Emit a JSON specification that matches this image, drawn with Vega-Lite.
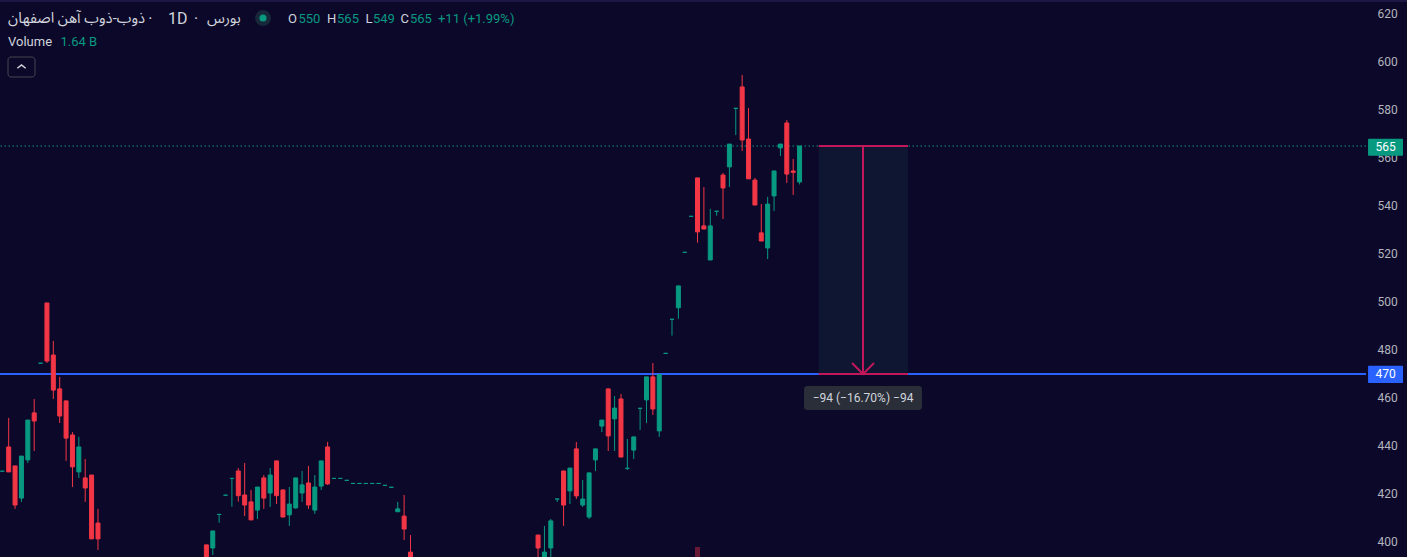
{
  "$schema": "https://vega.github.io/schema/vega-lite/v6.json",
  "width": 1366,
  "height": 557,
  "autosize": {"type": "none"},
  "padding": {"left": 0, "top": 0, "right": 41, "bottom": 0},
  "background": "#0c0829",
  "config": {"view": {"stroke": null}, "font": "Roboto"},
  "datasets": {
    "candles": [
      {"i":0,"o":429.5,"h":429.5,"l":429.5,"c":429.5},
      {"i":1,"o":439.6,"h":451.7,"l":429.2,"c":429.2},
      {"i":2,"o":431.7,"h":431.7,"l":413.8,"c":415.4},
      {"i":3,"o":418.3,"h":435.8,"l":416.7,"c":435.8},
      {"i":4,"o":434.2,"h":450.8,"l":432.9,"c":450.8},
      {"i":5,"o":453.8,"h":459.6,"l":437.9,"c":450.4},
      {"i":6,"o":474.5,"h":474.5,"l":474.5,"c":474.5},
      {"i":7,"o":499.6,"h":499.6,"l":474.6,"c":475.4},
      {"i":8,"o":477.9,"h":483.8,"l":459.6,"c":463.3},
      {"i":9,"o":463.8,"h":468.8,"l":449.6,"c":452.5},
      {"i":10,"o":458.8,"h":458.8,"l":433.8,"c":443.3},
      {"i":11,"o":444.6,"h":445.8,"l":422.9,"c":431.3},
      {"i":12,"o":429.2,"h":443.8,"l":426.7,"c":439.6},
      {"i":13,"o":426.7,"h":434.6,"l":416.7,"c":422.5},
      {"i":14,"o":427.9,"h":427.9,"l":401.3,"c":401.3},
      {"i":15,"o":407.9,"h":413.8,"l":396.7,"c":401.3},
      {"i":32,"o":398.8,"h":398.8,"l":386,"c":388},
      {"i":33,"o":397.5,"h":404.6,"l":394.6,"c":404.6},
      {"i":34,"o":411.5,"h":411.5,"l":408,"c":411.5},
      {"i":35,"o":419.5,"h":419.5,"l":419.5,"c":419.5},
      {"i":36,"o":426.5,"h":426.5,"l":414.7,"c":426.5},
      {"i":37,"o":429.6,"h":430.8,"l":416.8,"c":419.3},
      {"i":38,"o":419.6,"h":432.9,"l":410.8,"c":415.4},
      {"i":39,"o":416.7,"h":421.7,"l":409.2,"c":409.2},
      {"i":40,"o":413.3,"h":422.9,"l":409.6,"c":422.9},
      {"i":41,"o":426.7,"h":427.9,"l":413.8,"c":418.3},
      {"i":42,"o":420.4,"h":430.8,"l":414.6,"c":427.9},
      {"i":43,"o":433.8,"h":433.8,"l":415.8,"c":419.3},
      {"i":44,"o":421.7,"h":421.7,"l":410.4,"c":410.4},
      {"i":45,"o":411.3,"h":422.9,"l":406.7,"c":415.8},
      {"i":46,"o":414.2,"h":426.7,"l":413.8,"c":426.7},
      {"i":47,"o":420.4,"h":429.6,"l":416.7,"c":423.8},
      {"i":48,"o":424.6,"h":431.7,"l":413.8,"c":415.4},
      {"i":49,"o":413.3,"h":427.9,"l":411.7,"c":422.9},
      {"i":50,"o":423.3,"h":433.8,"l":421.7,"c":433.8},
      {"i":51,"o":439.6,"h":441.7,"l":423.8,"c":424.2},
      {"i":52,"o":426.5,"h":426.5,"l":426.5,"c":426.5},
      {"i":53,"o":426.5,"h":426.5,"l":426.5,"c":426.5},
      {"i":54,"o":425.7,"h":425.7,"l":425.7,"c":425.7},
      {"i":55,"o":424.4,"h":424.4,"l":424.4,"c":424.4},
      {"i":56,"o":424.4,"h":424.4,"l":424.4,"c":424.4},
      {"i":57,"o":424.4,"h":424.4,"l":424.4,"c":424.4},
      {"i":58,"o":424.4,"h":424.4,"l":424.4,"c":424.4},
      {"i":59,"o":424.4,"h":424.4,"l":424.4,"c":424.4},
      {"i":60,"o":423.6,"h":423.6,"l":423.6,"c":423.6},
      {"i":61,"o":422.8,"h":422.8,"l":422.8,"c":422.8},
      {"i":62,"o":412.6,"h":416.7,"l":412.6,"c":413.8},
      {"i":63,"o":410.8,"h":419.6,"l":400.8,"c":405.4},
      {"i":64,"o":395.8,"h":402.9,"l":386,"c":388},
      {"i":84,"o":402.9,"h":402.9,"l":386,"c":397.5},
      {"i":85,"o":388,"h":406.7,"l":386,"c":395.8},
      {"i":86,"o":397.5,"h":409.6,"l":386,"c":408.8},
      {"i":87,"o":417.9,"h":417.9,"l":416.7,"c":417.9},
      {"i":88,"o":429.6,"h":429.6,"l":406.7,"c":415.4},
      {"i":89,"o":421.3,"h":430.8,"l":415.8,"c":430.8},
      {"i":90,"o":438.8,"h":441.7,"l":417.9,"c":419.2},
      {"i":91,"o":415.4,"h":425.8,"l":414.6,"c":417.9},
      {"i":92,"o":410.4,"h":428.8,"l":409.6,"c":428.8},
      {"i":93,"o":434.2,"h":438.8,"l":429.6,"c":438.8},
      {"i":94,"o":448.3,"h":450.8,"l":445.8,"c":450.8},
      {"i":95,"o":463.8,"h":463.8,"l":437.9,"c":444.2},
      {"i":96,"o":451.3,"h":460.8,"l":437.9,"c":455.8},
      {"i":97,"o":459.6,"h":461.7,"l":435.4,"c":435.4},
      {"i":98,"o":430.7,"h":442.9,"l":430,"c":430.7},
      {"i":99,"o":438.3,"h":443.8,"l":434.6,"c":443.8},
      {"i":100,"o":455.7,"h":455.7,"l":446.7,"c":455.7},
      {"i":101,"o":459.2,"h":468.8,"l":449.6,"c":468.8},
      {"i":102,"o":468.8,"h":474.6,"l":452.9,"c":455.4},
      {"i":103,"o":446.3,"h":469.8,"l":443.8,"c":469.8},
      {"i":104,"o":478.6,"h":478.6,"l":478.6,"c":478.6},
      {"i":105,"o":492.8,"h":492.8,"l":486,"c":492.8},
      {"i":106,"o":497.6,"h":506.7,"l":493,"c":506.7},
      {"i":107,"o":520.7,"h":520.7,"l":520.7,"c":520.7},
      {"i":108,"o":535.7,"h":535.7,"l":535.7,"c":535.7},
      {"i":109,"o":551.7,"h":551.7,"l":524.7,"c":529.2},
      {"i":110,"o":531.7,"h":547.9,"l":530.4,"c":530.4},
      {"i":111,"o":517.5,"h":538.8,"l":517.5,"c":531.7},
      {"i":112,"o":537.8,"h":537.8,"l":536,"c":537.8},
      {"i":113,"o":552.9,"h":553.8,"l":534.6,"c":547.5},
      {"i":114,"o":556.3,"h":565.8,"l":547.9,"c":565.8},
      {"i":115,"o":580.7,"h":580.7,"l":569.6,"c":580.7},
      {"i":116,"o":589.6,"h":594.6,"l":562.9,"c":567.5},
      {"i":117,"o":567.9,"h":580.8,"l":551.3,"c":551.3},
      {"i":118,"o":550.8,"h":551.7,"l":540.4,"c":540.4},
      {"i":119,"o":528.8,"h":540.8,"l":525.4,"c":525.4},
      {"i":120,"o":522.5,"h":543.8,"l":517.9,"c":540.8},
      {"i":121,"o":544.2,"h":554.6,"l":537.9,"c":554.6},
      {"i":122,"o":564.2,"h":565.8,"l":560.8,"c":565.8},
      {"i":123,"o":574.6,"h":575.8,"l":549.6,"c":553.3},
      {"i":124,"o":554.6,"h":559.6,"l":544.6,"c":554},
      {"i":125,"o":550,"h":565,"l":549,"c":565}
    ],
    "volume": [{"i":109,"vol":9}]
  },
  "layer": [
    {
      "data": {"name": "volume"},
      "mark": {"type": "bar", "width": 5, "color": "#f23645", "opacity": 0.4},
      "encoding": {
        "x": {"field": "i", "type": "quantitative", "scale": {"domain": [-0.3606, 213.81], "nice": false, "zero": false, "padding": 0}, "axis": null},
        "y": {"field": "vol", "type": "quantitative", "scale": {"domain": [0, 500], "nice": false, "padding": 0}, "axis": null}
      }
    },
    {
      "layer": [
        {
          "data": {"values": [{}]},
          "mark": {"type": "rule", "color": "#1c1744", "strokeWidth": 2},
          "encoding": {
            "x": {"datum": -0.3606}, "x2": {"datum": 220.3},
            "y": {"datum": 625.4, "type": "quantitative", "scale": {"domain": [393.75, 625.83], "nice": false, "zero": false, "padding": 0},
              "axis": {"orient": "right", "values": [400,420,440,460,480,500,520,540,560,580,600,620], "grid": false, "domain": false, "ticks": false, "tickSize": 0, "labelPadding": 21, "labelAlign": "center", "labelFontSize": 12, "labelColor": "#b2b5be", "labelFont": "Roboto", "title": null}}
          }
        },
        {
          "data": {"values": [{}]},
          "mark": {"type": "rect", "color": "#0e1631"},
          "encoding": {"x": {"datum": 128}, "x2": {"datum": 142}, "y": {"datum": 470}, "y2": {"datum": 565}}
        },
        {
          "data": {"values": [{}]},
          "mark": {"type": "rule", "color": "#2962ff", "strokeWidth": 2},
          "encoding": {"y": {"datum": 470}}
        },
        {
          "data": {"values": [{}]},
          "mark": {"type": "rule", "color": "#089981", "strokeWidth": 1, "strokeDash": [1.5, 2.5]},
          "encoding": {"y": {"datum": 565}}
        },
        {
          "data": {"name": "candles"},
          "mark": {"type": "rule", "strokeWidth": 1, "clip": true},
          "encoding": {
            "x": {"field": "i", "type": "quantitative"},
            "y": {"field": "l", "type": "quantitative"},
            "y2": {"field": "h"},
            "color": {"condition": {"test": "datum.c >= datum.o", "value": "#089981"}, "value": "#f23645"}
          }
        },
        {
          "data": {"name": "candles"},
          "mark": {"type": "bar", "width": 4, "strokeWidth": 1, "clip": true},
          "encoding": {
            "x": {"field": "i", "type": "quantitative"},
            "y": {"field": "o", "type": "quantitative"},
            "y2": {"field": "c"},
            "fill": {"condition": {"test": "datum.c >= datum.o", "value": "#089981"}, "value": "#f23645"},
            "stroke": {"condition": {"test": "datum.c >= datum.o", "value": "#089981"}, "value": "#f23645"}
          }
        },
        {
          "data": {"values": [{}]},
          "mark": {"type": "rule", "color": "#c2185b", "strokeWidth": 2},
          "encoding": {"x": {"datum": 128}, "x2": {"datum": 142}, "y": {"datum": 565}}
        },
        {
          "data": {"values": [{}]},
          "mark": {"type": "rule", "color": "#c2185b", "strokeWidth": 2},
          "encoding": {"x": {"datum": 128}, "x2": {"datum": 142}, "y": {"datum": 470}}
        },
        {
          "data": {"values": [{}]},
          "mark": {"type": "rule", "color": "#c2185b", "strokeWidth": 2},
          "encoding": {"x": {"datum": 134.95}, "y": {"datum": 470}, "y2": {"datum": 565}}
        },
        {
          "data": {"values": [{}]},
          "mark": {"type": "point", "shape": "M-1,-1L0,0L1,-1", "filled": false, "stroke": "#c2185b", "strokeWidth": 2, "size": 484, "opacity": 1},
          "encoding": {"x": {"datum": 134.95}, "y": {"datum": 470}}
        },
        {
          "data": {"values": [{}]},
          "mark": {"type": "rect", "color": "#2a2e39", "cornerRadius": 3},
          "encoding": {"x": {"datum": 125.7}, "x2": {"datum": 144.2}, "y": {"datum": 455}, "y2": {"datum": 465}}
        },
        {
          "data": {"values": [{}]},
          "mark": {"type": "text", "color": "#d1d4dc", "fontSize": 12, "font": "Roboto", "align": "center", "baseline": "middle"},
          "encoding": {"x": {"datum": 134.95}, "y": {"datum": 460}, "text": {"value": "−94 (−16.70%) −94"}}
        },
        {
          "data": {"values": [{}]},
          "mark": {"type": "rect", "color": "#089981", "cornerRadius": 1},
          "encoding": {"x": {"datum": 214.13}, "x2": {"datum": 219.61}, "y": {"datum": 560.9}, "y2": {"datum": 568}}
        },
        {
          "data": {"values": [{}]},
          "mark": {"type": "text", "color": "#ffffff", "fontSize": 12, "font": "Roboto", "align": "center", "baseline": "middle"},
          "encoding": {"x": {"datum": 216.87}, "y": {"datum": 564.4}, "text": {"value": "565"}}
        },
        {
          "data": {"values": [{}]},
          "mark": {"type": "rect", "color": "#2962ff", "cornerRadius": 1},
          "encoding": {"x": {"datum": 214.13}, "x2": {"datum": 219.61}, "y": {"datum": 466.3}, "y2": {"datum": 473.4}}
        },
        {
          "data": {"values": [{}]},
          "mark": {"type": "text", "color": "#ffffff", "fontSize": 12, "font": "Roboto", "align": "center", "baseline": "middle"},
          "encoding": {"x": {"datum": 216.87}, "y": {"datum": 469.8}, "text": {"value": "470"}}
        },
        {
          "data": {"values": [{}]},
          "mark": {"type": "text", "color": "#d1d4dc", "fontSize": 14.8, "font": "Roboto, 'Noto Sans Arabic', 'DejaVu Sans', sans-serif", "align": "left", "baseline": "middle"},
          "encoding": {"x": {"datum": 0.894}, "y": {"datum": 617.9}, "text": {"value": "ذوب-ذوب آهن اصفهان"}}
        },
        {
          "data": {"values": [{}]},
          "mark": {"type": "text", "color": "#d1d4dc", "fontSize": 16, "font": "Roboto", "align": "center", "baseline": "middle"},
          "encoding": {"x": {"datum": 23.2}, "y": {"datum": 617.9}, "text": {"value": "·"}}
        },
        {
          "data": {"values": [{}]},
          "mark": {"type": "text", "color": "#d1d4dc", "fontSize": 16, "font": "Roboto", "align": "left", "baseline": "middle"},
          "encoding": {"x": {"datum": 25.98}, "y": {"datum": 617.9}, "text": {"value": "1D"}}
        },
        {
          "data": {"values": [{}]},
          "mark": {"type": "text", "color": "#d1d4dc", "fontSize": 16, "font": "Roboto", "align": "center", "baseline": "middle"},
          "encoding": {"x": {"datum": 30.37}, "y": {"datum": 617.9}, "text": {"value": "·"}}
        },
        {
          "data": {"values": [{}]},
          "mark": {"type": "text", "color": "#d1d4dc", "fontSize": 14.8, "font": "Roboto, 'Noto Sans Arabic', 'DejaVu Sans', sans-serif", "align": "left", "baseline": "middle"},
          "encoding": {"x": {"datum": 32.09}, "y": {"datum": 617.9}, "text": {"value": "بورس"}}
        },
        {
          "data": {"values": [{}]},
          "mark": {"type": "point", "shape": "circle", "filled": true, "color": "#16283a", "size": 254, "opacity": 1},
          "encoding": {"x": {"datum": 40.875}, "y": {"datum": 618.3}}
        },
        {
          "data": {"values": [{}]},
          "mark": {"type": "point", "shape": "circle", "filled": true, "color": "#089981", "size": 50, "opacity": 1},
          "encoding": {"x": {"datum": 40.875}, "y": {"datum": 618.3}}
        },
        {
          "data": {"values": [{}]},
          "mark": {"type": "text", "color": "#d1d4dc", "fontSize": 13, "font": "Roboto", "align": "left", "baseline": "middle"},
          "encoding": {"x": {"datum": 44.79}, "y": {"datum": 617.9}, "text": {"value": "O"}}
        },
        {
          "data": {"values": [{}]},
          "mark": {"type": "text", "color": "#089981", "fontSize": 13, "font": "Roboto", "align": "left", "baseline": "middle"},
          "encoding": {"x": {"datum": 46.44}, "y": {"datum": 617.9}, "text": {"value": "550"}}
        },
        {
          "data": {"values": [{}]},
          "mark": {"type": "text", "color": "#d1d4dc", "fontSize": 13, "font": "Roboto", "align": "left", "baseline": "middle"},
          "encoding": {"x": {"datum": 50.91}, "y": {"datum": 617.9}, "text": {"value": "H"}}
        },
        {
          "data": {"values": [{}]},
          "mark": {"type": "text", "color": "#089981", "fontSize": 13, "font": "Roboto", "align": "left", "baseline": "middle"},
          "encoding": {"x": {"datum": 52.48}, "y": {"datum": 617.9}, "text": {"value": "565"}}
        },
        {
          "data": {"values": [{}]},
          "mark": {"type": "text", "color": "#d1d4dc", "fontSize": 13, "font": "Roboto", "align": "left", "baseline": "middle"},
          "encoding": {"x": {"datum": 56.95}, "y": {"datum": 617.9}, "text": {"value": "L"}}
        },
        {
          "data": {"values": [{}]},
          "mark": {"type": "text", "color": "#089981", "fontSize": 13, "font": "Roboto", "align": "left", "baseline": "middle"},
          "encoding": {"x": {"datum": 58.12}, "y": {"datum": 617.9}, "text": {"value": "549"}}
        },
        {
          "data": {"values": [{}]},
          "mark": {"type": "text", "color": "#d1d4dc", "fontSize": 13, "font": "Roboto", "align": "left", "baseline": "middle"},
          "encoding": {"x": {"datum": 62.43}, "y": {"datum": 617.9}, "text": {"value": "C"}}
        },
        {
          "data": {"values": [{}]},
          "mark": {"type": "text", "color": "#089981", "fontSize": 13, "font": "Roboto", "align": "left", "baseline": "middle"},
          "encoding": {"x": {"datum": 63.92}, "y": {"datum": 617.9}, "text": {"value": "565"}}
        },
        {
          "data": {"values": [{}]},
          "mark": {"type": "text", "color": "#089981", "fontSize": 13, "font": "Roboto", "align": "left", "baseline": "middle"},
          "encoding": {"x": {"datum": 68.31}, "y": {"datum": 617.9}, "text": {"value": "+11 (+1.99%)"}}
        },
        {
          "data": {"values": [{}]},
          "mark": {"type": "text", "color": "#d1d4dc", "fontSize": 13, "font": "Roboto", "align": "left", "baseline": "middle"},
          "encoding": {"x": {"datum": 0.894}, "y": {"datum": 608.3}, "text": {"value": "Volume"}}
        },
        {
          "data": {"values": [{}]},
          "mark": {"type": "text", "color": "#089981", "fontSize": 13, "font": "Roboto", "align": "left", "baseline": "middle"},
          "encoding": {"x": {"datum": 9.125}, "y": {"datum": 608.3}, "text": {"value": "1.64 B"}}
        },
        {
          "data": {"values": [{}]},
          "mark": {"type": "rect", "fill": null, "filled": false, "stroke": "#434651", "strokeWidth": 1, "cornerRadius": 3},
          "encoding": {"x": {"datum": 0.894}, "x2": {"datum": 5.13}, "y": {"datum": 593.75}, "y2": {"datum": 602.08}}
        },
        {
          "data": {"values": [{}]},
          "mark": {"type": "point", "shape": "M-1,0.4L0,-0.4L1,0.4", "filled": false, "stroke": "#d1d4dc", "strokeWidth": 1.5, "size": 70, "opacity": 1},
          "encoding": {"x": {"datum": 3.01}, "y": {"datum": 598.1}}
        }
      ]
    }
  ],
  "resolve": {"scale": {"y": "independent"}}
}
